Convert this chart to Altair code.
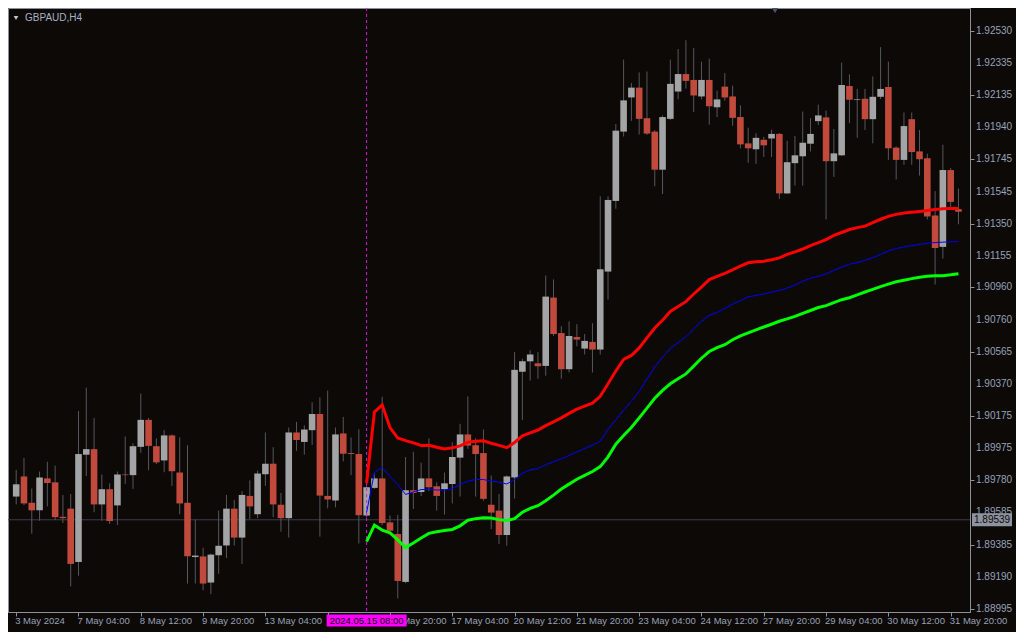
import altair as alt
import pandas as pd

# ---------------- data ----------------
opens = [1.89681, 1.89804, 1.89643, 1.89597, 1.89792, 1.89768, 1.89557, 1.89607, 1.89281, 1.89937,
         1.89971, 1.89633, 1.89726, 1.89627, 1.89816, 1.89812, 1.89985, 1.90150, 1.89989, 1.89902,
         1.90055, 1.89828, 1.89643, 1.89311, 1.89315, 1.89155, 1.89322, 1.89382, 1.89607, 1.89430,
         1.89685, 1.89573, 1.89818, 1.89882, 1.89631, 1.89549, 1.90073, 1.90015, 1.90087, 1.90186,
         1.89685, 1.89657, 1.90067, 1.89947, 1.89941, 1.89565, 1.89734, 1.89792, 1.89523, 1.89452,
         1.89159, 1.89720, 1.89709, 1.89792, 1.89744, 1.89726, 1.89758, 1.89919, 1.90061, 1.89995,
         1.89947, 1.89631, 1.89595, 1.89446, 1.89798, 1.90444, 1.90508, 1.90496, 1.90480, 1.90898,
         1.90681, 1.90460, 1.90657, 1.90586, 1.90627, 1.90580, 1.91057, 1.91489, 1.91913, 1.92122,
         1.92182, 1.91995, 1.91913, 1.91680, 1.91991, 1.92158, 1.92265, 1.92229, 1.92128, 1.92229,
         1.92062, 1.92188, 1.92128, 1.92002, 1.91841, 1.91805, 1.91863, 1.91871, 1.91899, 1.91535,
         1.91720, 1.91762, 1.91839, 1.91977, 1.92000, 1.91732, 1.91768, 1.92192, 1.92106, 1.92114,
         1.91989, 1.92126, 1.92186, 1.91815, 1.91740, 1.91989, 1.91792, 1.91750, 1.91400, 1.91208,
         1.91678, 1.91439]
highs = [1.89844, 1.89917, 1.89730, 1.89834, 1.89894, 1.89870, 1.89691, 1.89697, 1.90204, 1.90347,
         1.90162, 1.89816, 1.89762, 1.89834, 1.90049, 1.90007, 1.90311, 1.90162, 1.90037, 1.90087,
         1.90061, 1.90043, 1.89995, 1.89541, 1.89368, 1.89332, 1.89595, 1.89691, 1.89661, 1.89714,
         1.89780, 1.89840, 1.90073, 1.89983, 1.89703, 1.90103, 1.90138, 1.90116, 1.90258, 1.90288,
         1.90329, 1.90103, 1.90168, 1.90043, 1.90093, 1.89762, 1.89824, 1.90292, 1.89565, 1.89569,
         1.89923, 1.89955, 1.89888, 1.90037, 1.89768, 1.89828, 1.90013, 1.90126, 1.90294, 1.90037,
         1.90091, 1.89810, 1.89697, 1.89810, 1.90564, 1.90524, 1.90576, 1.90564, 1.91033, 1.91009,
         1.90723, 1.90753, 1.90735, 1.90675, 1.90741, 1.91517, 1.91517, 1.91959, 1.92353, 1.92211,
         1.92275, 1.92281, 1.91923, 1.92012, 1.92353, 1.92418, 1.92472, 1.92424, 1.92341, 1.92359,
         1.92164, 1.92271, 1.92194, 1.92074, 1.91937, 1.91903, 1.91881, 1.91925, 1.91905, 1.91857,
         1.91887, 1.92036, 1.91995, 1.92078, 1.92042, 1.91929, 1.92335, 1.92263, 1.92174, 1.92174,
         1.92251, 1.92430, 1.92341, 1.91823, 1.92030, 1.92030, 1.91923, 1.91778, 1.91549, 1.91833,
         1.91690, 1.91565]
lows = [1.89633, 1.89629, 1.89454, 1.89533, 1.89621, 1.89537, 1.89519, 1.89131, 1.89197, 1.89806,
        1.89585, 1.89533, 1.89513, 1.89507, 1.89758, 1.89728, 1.89949, 1.89842, 1.89880, 1.89830,
        1.89746, 1.89573, 1.89149, 1.89149, 1.89108, 1.89084, 1.89209, 1.89305, 1.89382, 1.89269,
        1.89543, 1.89549, 1.89746, 1.89555, 1.89466, 1.89430, 1.89961, 1.89937, 1.89997, 1.89436,
        1.89609, 1.89615, 1.89896, 1.89812, 1.89394, 1.89553, 1.89728, 1.89506, 1.89466, 1.89058,
        1.89151, 1.89605, 1.89685, 1.89714, 1.89595, 1.89571, 1.89639, 1.89681, 1.89973, 1.89681,
        1.89655, 1.89482, 1.89392, 1.89380, 1.89669, 1.90150, 1.90391, 1.90401, 1.90420, 1.90663,
        1.90401, 1.90440, 1.90600, 1.90550, 1.90440, 1.90550, 1.90886, 1.91441, 1.91883, 1.91979,
        1.91895, 1.91893, 1.91579, 1.91531, 1.91983, 1.92110, 1.92176, 1.92032, 1.92110, 1.91955,
        1.92002, 1.92102, 1.91949, 1.91811, 1.91722, 1.91716, 1.91758, 1.91758, 1.91501, 1.91531,
        1.91583, 1.91583, 1.91792, 1.91953, 1.91376, 1.91636, 1.91764, 1.91965, 1.91875, 1.91923,
        1.91841, 1.92112, 1.91740, 1.91620, 1.91710, 1.91710, 1.91644, 1.91376, 1.90978, 1.91137,
        1.91435, 1.91346]
closes = [1.89756, 1.89639, 1.89597, 1.89798, 1.89764, 1.89555, 1.89549, 1.89269, 1.89941, 1.89971,
          1.89633, 1.89726, 1.89531, 1.89816, 1.89812, 1.89989, 1.90150, 1.89991, 1.89890, 1.90055,
          1.89836, 1.89639, 1.89316, 1.89320, 1.89149, 1.89326, 1.89380, 1.89607, 1.89430, 1.89691,
          1.89621, 1.89822, 1.89882, 1.89633, 1.89549, 1.90073, 1.90027, 1.90091, 1.90186, 1.89687,
          1.89663, 1.90061, 1.89943, 1.89941, 1.89567, 1.89738, 1.89792, 1.89519, 1.89472, 1.89165,
          1.89720, 1.89703, 1.89792, 1.89738, 1.89685, 1.89762, 1.89923, 1.90061, 1.89993, 1.89941,
          1.89667, 1.89583, 1.89446, 1.89804, 1.90456, 1.90508, 1.90550, 1.90478, 1.90904, 1.90675,
          1.90460, 1.90663, 1.90641, 1.90633, 1.90580, 1.91071, 1.91495, 1.91919, 1.92104, 1.92182,
          1.91991, 1.91901, 1.91680, 1.92002, 1.92205, 1.92265, 1.92223, 1.92134, 1.92229, 1.92068,
          1.92110, 1.92122, 1.91997, 1.91835, 1.91811, 1.91875, 1.91829, 1.91899, 1.91535, 1.91726,
          1.91768, 1.91845, 1.91899, 1.92012, 1.91732, 1.91780, 1.92198, 1.92108, 1.92110, 1.91989,
          1.92126, 1.92174, 1.91811, 1.91740, 1.91947, 1.91788, 1.91744, 1.91394, 1.91201, 1.91678,
          1.91483, 1.91423]

# indicator lines (start at bar 45)
line_start = 45
upper = [1.89764, 1.90198, 1.90242, 1.90103, 1.90039, 1.90023, 1.90009, 1.89994, 1.89995, 1.89983,
         1.89972, 1.89979, 1.89991, 1.90013, 1.90019, 1.90022, 1.90007, 1.89994, 1.89980, 1.90012,
         1.90052, 1.90070, 1.90088, 1.90115, 1.90138, 1.90162, 1.90190, 1.90216, 1.90234, 1.90252,
         1.90294, 1.90371, 1.90449, 1.90520, 1.90544, 1.90590, 1.90652, 1.90712, 1.90759, 1.90813,
         1.90843, 1.90873, 1.90920, 1.90962, 1.91008, 1.91028, 1.91046, 1.91067, 1.91091, 1.91111,
         1.91117, 1.91120, 1.91129, 1.91141, 1.91162, 1.91177, 1.91195, 1.91216, 1.91234, 1.91252,
         1.91278, 1.91296, 1.91314, 1.91326, 1.91335, 1.91356, 1.91377, 1.91395, 1.91407, 1.91415,
         1.91420, 1.91425, 1.91431, 1.91437, 1.91441, 1.91443, 1.91443]
middle = [1.89584, 1.89828, 1.89858, 1.89804, 1.89754, 1.89694, 1.89709, 1.89724, 1.89725, 1.89721,
          1.89721, 1.89729, 1.89755, 1.89775, 1.89785, 1.89785, 1.89776, 1.89769, 1.89758, 1.89785,
          1.89824, 1.89844, 1.89852, 1.89876, 1.89894, 1.89912, 1.89933, 1.89954, 1.89975, 1.89995,
          1.90019, 1.90091, 1.90151, 1.90210, 1.90264, 1.90324, 1.90401, 1.90473, 1.90532, 1.90586,
          1.90622, 1.90658, 1.90706, 1.90753, 1.90789, 1.90807, 1.90831, 1.90858, 1.90879, 1.90903,
          1.90911, 1.90920, 1.90932, 1.90941, 1.90956, 1.90974, 1.90998, 1.91016, 1.91028, 1.91043,
          1.91064, 1.91085, 1.91102, 1.91111, 1.91126, 1.91141, 1.91162, 1.91183, 1.91198, 1.91207,
          1.91216, 1.91223, 1.91231, 1.91234, 1.91237, 1.91239, 1.91240]
lower = [1.89406, 1.89506, 1.89476, 1.89459, 1.89416, 1.89369, 1.89397, 1.89427, 1.89456, 1.89466,
         1.89474, 1.89480, 1.89502, 1.89536, 1.89546, 1.89552, 1.89550, 1.89540, 1.89534, 1.89546,
         1.89585, 1.89609, 1.89625, 1.89655, 1.89690, 1.89727, 1.89757, 1.89787, 1.89810, 1.89834,
         1.89864, 1.89924, 1.90001, 1.90055, 1.90103, 1.90162, 1.90222, 1.90282, 1.90330, 1.90371,
         1.90401, 1.90431, 1.90479, 1.90527, 1.90568, 1.90592, 1.90610, 1.90640, 1.90664, 1.90682,
         1.90700, 1.90718, 1.90735, 1.90753, 1.90768, 1.90783, 1.90801, 1.90819, 1.90837, 1.90849,
         1.90867, 1.90885, 1.90897, 1.90914, 1.90932, 1.90948, 1.90965, 1.90980, 1.90995, 1.91004,
         1.91014, 1.91022, 1.91028, 1.91031, 1.91032, 1.91037, 1.91044]

x_tick_bars = list(range(0, 121, 8))
x_tick_labels = ["3 May 2024", "7 May 04:00", "8 May 12:00", "9 May 20:00", "13 May 04:00",
                 "14 May 12:00", "15 May 20:00", "17 May 04:00", "20 May 12:00", "21 May 20:00",
                 "23 May 04:00", "24 May 12:00", "27 May 20:00", "29 May 04:00", "30 May 12:00",
                 "31 May 20:00"]
y_ticks = [1.92530, 1.92335, 1.92135, 1.91940, 1.91745, 1.91545, 1.91350, 1.91155, 1.90960,
           1.90760, 1.90565, 1.90370, 1.90175, 1.89975, 1.89780, 1.89585, 1.89385, 1.89190, 1.88995]
current_price = 1.89539
cursor_bar = 45
cursor_label = "2024.05.15 08:00"
symbol_label = "GBPAUD,H4"

# ---------------- styling ----------------
W, H = 962, 604
BG = "#0c0907"
AXIS = "#8a909c"
TEXT = "#98a2b5"
FONT = "Liberation Sans"
FSX = 9.5
FSY = 10

n = len(opens)
df = pd.DataFrame({"bar": list(range(n)), "open": opens, "high": highs,
                   "low": lows, "close": closes})
df["dir"] = ["up" if c >= o else "down" for o, c in zip(opens, closes)]

m = len(upper)
lines = pd.DataFrame({"bar": list(range(line_start, line_start + m)),
                      "upper": upper, "middle": middle, "lower": lower})

xs = alt.Scale(domain=[-0.41, 121.84], nice=False, zero=False)
ys = alt.Scale(domain=[1.88975, 1.92669], nice=False, zero=False)

x_axis = alt.Axis(values=x_tick_bars, labels=False, tickColor=AXIS, domainColor=AXIS,
                  tickSize=4, grid=False, title=None, zindex=0)
y_axis = alt.Axis(values=y_ticks, labels=False, orient="right", tickColor=AXIS,
                  domainColor=AXIS, tickSize=4, grid=False, title=None, zindex=0)

base = alt.Chart(df)

wicks = base.mark_rule(color="#57575f", strokeWidth=1).encode(
    x=alt.X("bar:Q", scale=xs, axis=x_axis),
    y=alt.Y("low:Q", scale=ys, axis=y_axis),
    y2="high:Q",
)

bodies = base.mark_bar(width=6.6).encode(
    x=alt.X("bar:Q", scale=xs),
    y=alt.Y("open:Q", scale=ys),
    y2="close:Q",
    color=alt.Color("dir:N", scale=alt.Scale(domain=["up", "down"],
                                             range=["#a3a4a6", "#c14a3c"]), legend=None),
)

price_df = pd.DataFrame({"p": [current_price], "label": ["%.5f" % current_price]})
price_line = alt.Chart(price_df).mark_rule(color="#3c3c4e", strokeWidth=1).encode(
    y=alt.Y("p:Q", scale=ys))

lbase = alt.Chart(lines)
upper_line = lbase.mark_line(color="#ff0000", strokeWidth=3).encode(
    x=alt.X("bar:Q", scale=xs), y=alt.Y("upper:Q", scale=ys))
middle_line = lbase.mark_line(color="#0000ff", strokeWidth=1).encode(
    x=alt.X("bar:Q", scale=xs), y=alt.Y("middle:Q", scale=ys))
lower_line = lbase.mark_line(color="#00ff00", strokeWidth=3).encode(
    x=alt.X("bar:Q", scale=xs), y=alt.Y("lower:Q", scale=ys))

cur_df = pd.DataFrame({"bar": [cursor_bar], "label": [cursor_label]})
cursor_line = alt.Chart(cur_df).mark_rule(color="#d81ad8", strokeWidth=1,
                                          strokeDash=[3, 3]).encode(
    x=alt.X("bar:Q", scale=xs))

# axis labels as text so the annotation boxes can sit on top of them
xlab_df = pd.DataFrame({"bar": x_tick_bars, "label": x_tick_labels})
x_labels = alt.Chart(xlab_df).mark_text(align="left", baseline="top", color=TEXT,
                                        font=FONT, fontSize=FSX, dx=-1).encode(
    x=alt.X("bar:Q", scale=xs), y=alt.value(H + 3.5), text="label:N")
ylab_df = pd.DataFrame({"v": y_ticks, "label": ["%.5f" % v for v in y_ticks]})
y_labels = alt.Chart(ylab_df).mark_text(align="left", baseline="middle", color=TEXT,
                                        font=FONT, fontSize=FSY).encode(
    x=alt.value(W + 6), y=alt.Y("v:Q", scale=ys), text="label:N")

price_box = alt.Chart(price_df).mark_tick(orient="horizontal", size=40, thickness=13,
                                          color="#8d93a0", opacity=1).encode(
    x=alt.value(W + 22), y=alt.Y("p:Q", scale=ys))
price_text = alt.Chart(price_df).mark_text(align="left", baseline="middle", color="#0c0907",
                                           font=FONT, fontSize=FSY).encode(
    x=alt.value(W + 4), y=alt.Y("p:Q", scale=ys), text="label:N")

cursor_box = alt.Chart(cur_df).mark_tick(orient="horizontal", size=80, thickness=12,
                                         color="#ff00ff", opacity=1).encode(
    x=alt.X("bar:Q", scale=xs), y=alt.value(H + 8.5))
cursor_text = alt.Chart(cur_df).mark_text(align="center", baseline="middle", color="#0c0907",
                                          font=FONT, fontSize=FSX).encode(
    x=alt.X("bar:Q", scale=xs), y=alt.value(H + 9), text="label:N")

title_df = pd.DataFrame({"t": [symbol_label]})
title_text = alt.Chart(title_df).mark_text(align="left", baseline="middle", color="#a9b1c2",
                                           font=FONT, fontSize=FSY).encode(
    x=alt.value(17), y=alt.value(10), text="t:N")
title_tri = alt.Chart(title_df).mark_point(shape="triangle-down", filled=True, size=22,
                                           color="#c0c6d2", opacity=1).encode(
    x=alt.value(8), y=alt.value(10))
shift_tri = alt.Chart(title_df).mark_point(shape="triangle-down", filled=True, size=60,
                                           color="#4a5068", opacity=1).encode(
    x=alt.value(767), y=alt.value(2))

chart = alt.layer(
    price_line, wicks, bodies, cursor_line, upper_line, middle_line, lower_line,
    x_labels, y_labels,
    price_box, price_text, cursor_box, cursor_text, title_tri, title_text, shift_tri,
).properties(
    width=W, height=H,
    background=BG,
    padding={"left": 0, "top": 0, "right": 46, "bottom": 20},
    autosize=alt.AutoSizeParams(type="none"),
).configure_view(stroke=AXIS, strokeWidth=1)

chart.save("out.html", embed_options={"renderer": "svg", "actions": False})
